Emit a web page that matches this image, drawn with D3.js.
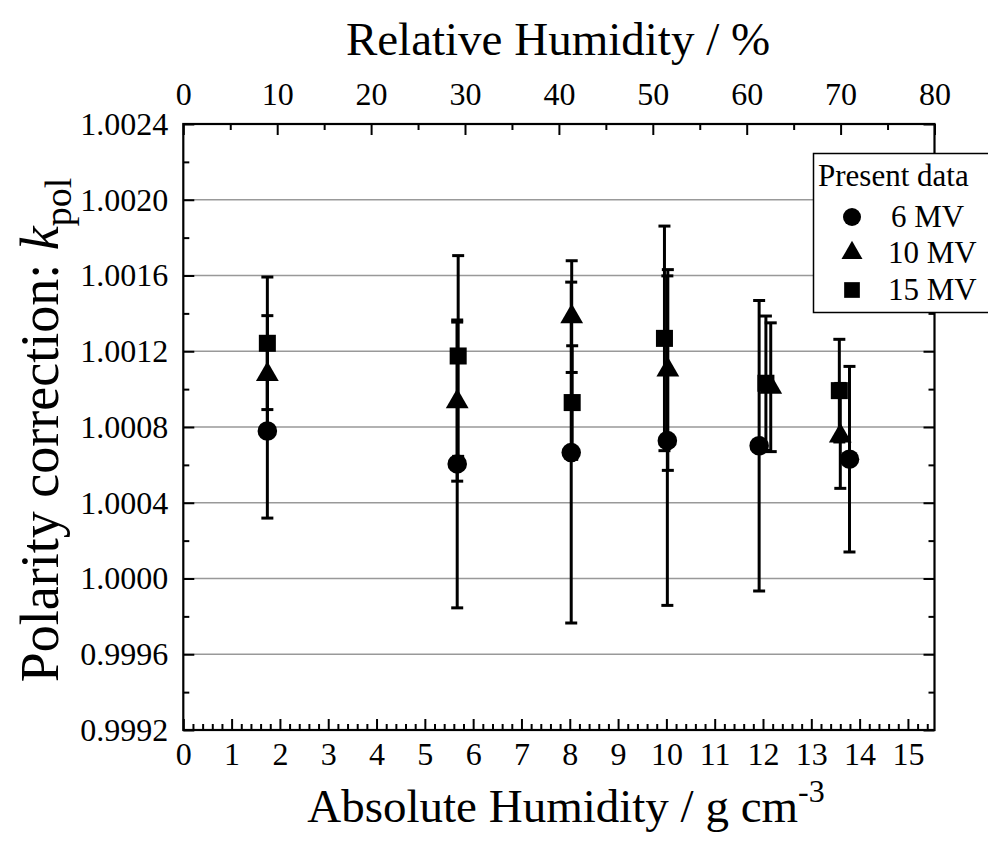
<!DOCTYPE html>
<html><head><meta charset="utf-8">
<script src="https://cdn.jsdelivr.net/npm/d3@7"></script>
<style>
body{margin:0;background:#fff;}
text{font-family:"Liberation Serif","Times New Roman",serif;fill:#000;}
</style></head>
<body><svg id="chart" width="988" height="850"></svg>
<script>
// ---- data ----
const absHum6  = [1.74, 5.67, 8.03, 10.02, 11.92, 13.79];
const kpol6    = [1.000779, 1.000605, 1.000665, 1.000728, 1.000701, 1.000630];
const err6     = [0.00046, 0.00076, 0.00090, 0.00087, 0.000767, 0.00049];

const absHum10 = [1.74, 5.67, 8.04, 10.03, 12.16, 13.60];
const kpol10   = [1.001078, 1.000934, 1.001383, 1.001101, 1.001010, 1.000753];
const err10    = [0.00031, 0.00042, 0.000295, 0.00053, 0.00034, 0.000277];

const absHum15 = [1.74, 5.69, 8.05, 9.96, 12.06, 13.58];
const kpol15   = [1.001242, 1.001175, 1.000929, 1.001268, 1.001031, 1.000992];
const err15    = [0.00035, 0.00053, 0.00030, 0.000593, 0.000355, 0.000271];

const seriesNames = ["6 MV", "10 MV", "15 MV"];
const yTicks = [0.9992, 0.9996, 1.0000, 1.0004, 1.0008, 1.0012, 1.0016, 1.0020, 1.0024];
const xTicks = [0,1,2,3,4,5,6,7,8,9,10,11,12,13,14,15];
const topTicks = [0,10,20,30,40,50,60,70,80];

// ---- layout ----
const L = 183.3, R = 934.5, T = 124, B = 730;
const svg = d3.select("#chart");
const x = d3.scaleLinear().domain([0, 15.55]).range([L, R]);
const xTop = d3.scaleLinear().domain([0, 80]).range([L, R]);
const y = d3.scaleLinear().domain([0.9992, 1.0024]).range([B, T]);

// gridlines
svg.append("g").selectAll("line").data(yTicks.slice(1, -1)).join("line")
  .attr("x1", L).attr("x2", R).attr("y1", d => y(d)).attr("y2", d => y(d))
  .attr("stroke", "#999").attr("stroke-width", 1.3);

// axes
function styleAxis(g){ g.select(".domain").remove(); g.selectAll("line").attr("stroke","#000").attr("stroke-width",2); g.selectAll("text").attr("font-size",32).attr("font-family","Liberation Serif"); }

const yMinor = d3.range(0.9994, 1.0023, 0.0004);
svg.append("g").attr("transform",`translate(${L},0)`)
  .call(d3.axisLeft(y).tickValues(yTicks).tickFormat(d3.format(".4f")).tickSizeInner(-11).tickSizeOuter(0).tickPadding(15)).call(styleAxis);
svg.append("g").attr("transform",`translate(${L},0)`)
  .call(d3.axisLeft(y).tickValues(yMinor).tickFormat("").tickSizeInner(-6).tickSizeOuter(0)).call(styleAxis);
svg.append("g").attr("transform",`translate(${R},0)`)
  .call(d3.axisRight(y).tickValues(yTicks).tickFormat("").tickSizeInner(-11).tickSizeOuter(0)).call(styleAxis);
svg.append("g").attr("transform",`translate(${R},0)`)
  .call(d3.axisRight(y).tickValues(yMinor).tickFormat("").tickSizeInner(-6).tickSizeOuter(0)).call(styleAxis);

const xMinor = d3.range(0, 15.5, 0.2).filter(v => Math.abs(v - Math.round(v)) > 1e-6);
svg.append("g").attr("transform",`translate(0,${B})`)
  .call(d3.axisBottom(x).tickValues(xTicks).tickFormat(d3.format("d")).tickSizeInner(-11).tickSizeOuter(0).tickPadding(12)).call(styleAxis);
svg.append("g").attr("transform",`translate(0,${B})`)
  .call(d3.axisBottom(x).tickValues(xMinor).tickFormat("").tickSizeInner(-6).tickSizeOuter(0)).call(styleAxis);

const topMinor = d3.range(5, 80, 10);
svg.append("g").attr("transform",`translate(0,${T})`)
  .call(d3.axisTop(xTop).tickValues(topTicks).tickFormat(d3.format("d")).tickSizeInner(-11).tickSizeOuter(0).tickPadding(19)).call(styleAxis);
svg.append("g").attr("transform",`translate(0,${T})`)
  .call(d3.axisTop(xTop).tickValues(topMinor).tickFormat("").tickSizeInner(-6).tickSizeOuter(0)).call(styleAxis);

// frame
svg.append("rect").attr("x",L).attr("y",T).attr("width",R-L).attr("height",B-T)
  .attr("fill","none").attr("stroke","#000").attr("stroke-width",2.2);

// series
const series = [
  {xs: absHum6,  ys: kpol6,  es: err6,  sym: d3.symbolCircle,   size: 300},
  {xs: absHum10, ys: kpol10, es: err10, sym: d3.symbolTriangle, size: 225},
  {xs: absHum15, ys: kpol15, es: err15, sym: d3.symbolSquare,   size: 290}
];
const capW = 6;
series.forEach(s => {
  const g = svg.append("g");
  const pts = s.xs.map((v,i) => ({x: v, y: s.ys[i], e: s.es[i]}));
  g.selectAll(".bar").data(pts).join("line")
    .attr("x1", d => x(d.x)).attr("x2", d => x(d.x))
    .attr("y1", d => y(d.y + d.e)).attr("y2", d => y(d.y - d.e))
    .attr("stroke","#000").attr("stroke-width",3);
  [1,-1].forEach(sg => {
    g.selectAll(".cap"+sg).data(pts).join("line")
      .attr("x1", d => x(d.x) - capW).attr("x2", d => x(d.x) + capW)
      .attr("y1", d => y(d.y + sg*d.e)).attr("y2", d => y(d.y + sg*d.e))
      .attr("stroke","#000").attr("stroke-width",3);
  });
  g.selectAll("path").data(pts).join("path")
    .attr("d", d3.symbol().type(s.sym).size(s.size))
    .attr("transform", d => `translate(${x(d.x)},${y(d.y)})`)
    .attr("fill","#000");
});

// axis titles
svg.append("text").attr("x", 558).attr("y", 55).attr("text-anchor","middle")
  .attr("font-size",47).text("Relative Humidity / %");
const xt = svg.append("text").attr("x", 566).attr("y", 822).attr("text-anchor","middle").attr("font-size",47);
xt.append("tspan").text("Absolute Humidity / g cm");
xt.append("tspan").attr("dy",-20).attr("font-size",32).text("-3");
const yt = svg.append("text").attr("transform","translate(58,430) rotate(-90)").attr("text-anchor","middle").attr("font-size",54);
yt.append("tspan").text("Polarity correction: ");
yt.append("tspan").attr("font-style","italic").text("k");
yt.append("tspan").attr("dy",13).attr("font-size",38).text("pol");

// legend
const lg = svg.append("g");
lg.append("rect").attr("x",813.5).attr("y",153.5).attr("width",200).attr("height",159)
  .attr("fill","#fff").attr("stroke","#000").attr("stroke-width",1.5);
lg.append("text").attr("x",818).attr("y",186).attr("font-size",31).text("Present data");
const legY = [217, 253, 290];
series.forEach((s,i) => {
  const cy = legY[i];
  lg.append("path").attr("d", d3.symbol().type(s.sym).size(s.size*0.85)).attr("transform",`translate(852,${cy})`).attr("fill","#000");
  lg.append("text").attr("x", i===0 ? 891 : 888).attr("y", cy+10).attr("font-size",31).text(seriesNames[i]);
});
</script></body></html>
